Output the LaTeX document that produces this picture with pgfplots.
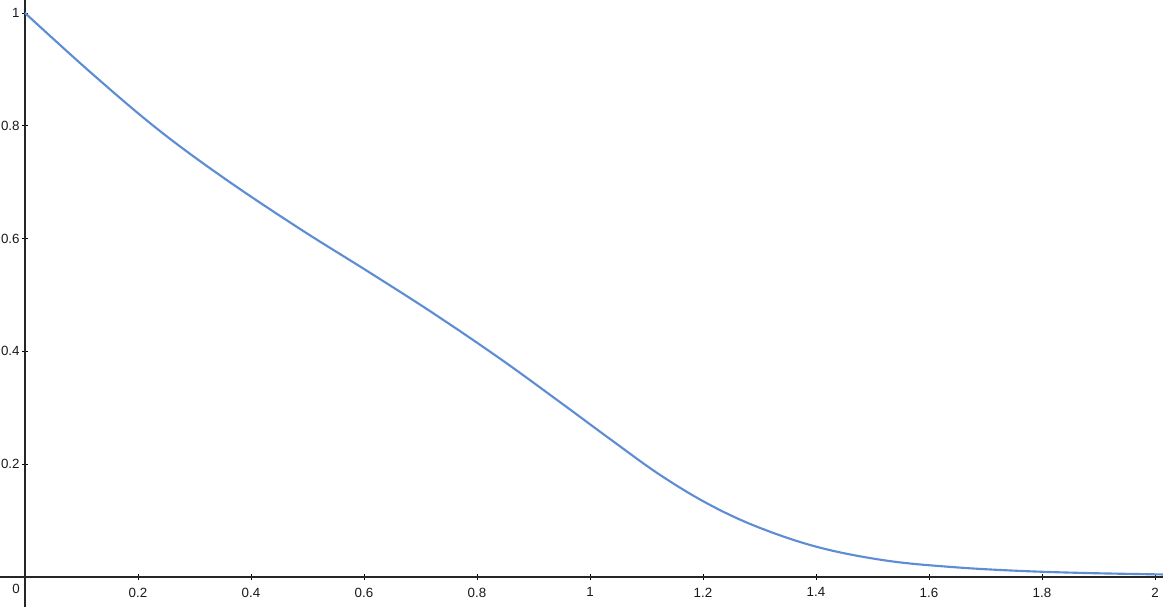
\documentclass[border=0pt]{standalone}
\usepackage{pgfplots}
\pgfplotsset{compat=1.18}
\usepackage{fontspec}
\setmainfont{Liberation Sans}
\definecolor{curve}{RGB}{94,141,211}
\begin{document}
\begin{tikzpicture}
\begin{axis}[
  scale only axis,
  width=872.25pt, height=455.25pt,
  axis lines=middle,
  axis line style={-, line width=0.8pt, black!85},
  every inner x axis line/.append style={-},
  every inner y axis line/.append style={-},
  xmin=-0.0442, xmax=2.0142,
  ymin=-0.0532, ymax=1.0230,
  xtick={0.2,0.4,0.6,0.8,1,1.2,1.4,1.6,1.8,2},
  xticklabels={0.2,0.4,0.6,0.8,1,1.2,1.4,1.6,1.8,2},
  ytick={0.2,0.4,0.6,0.8,1},
  yticklabels={0.2,0.4,0.6,0.8,1},
  tick align=center,
  major tick length=4pt,
  tick style={black, line width=0.7pt},
  tick label style={font=\fontsize{10}{12}\selectfont, black!90},
  xticklabel style={yshift=-2.5pt},
  yticklabel style={xshift=1.5pt},
  /pgf/number format/assume math mode=true,
  clip=false,
]
\addplot[curve, line width=1.6pt, smooth, tension=0.6] coordinates {
  (0,1.0) (0.118,0.893) (0.236,0.793) (0.354,0.706) (0.487,0.617)
  (0.605,0.543) (0.722,0.468) (0.841,0.387) (0.947,0.310) (1.035,0.245)
  (1.124,0.181) (1.212,0.128) (1.301,0.087) (1.407,0.052) (1.525,0.029)
  (1.643,0.0175) (1.761,0.0108) (1.880,0.0070) (2.014,0.0045)
};
\node[anchor=north east, font=\fontsize{10}{12}\selectfont, text=black!90, inner sep=0pt, xshift=-3.75pt, yshift=-5.25pt] at (axis cs:0,0) {0};
\coordinate (sw) at (rel axis cs:0,0);
\coordinate (ne) at (rel axis cs:1,1);
\end{axis}
\pgfresetboundingbox
\useasboundingbox (sw) rectangle (ne);
\end{tikzpicture}
\end{document}
